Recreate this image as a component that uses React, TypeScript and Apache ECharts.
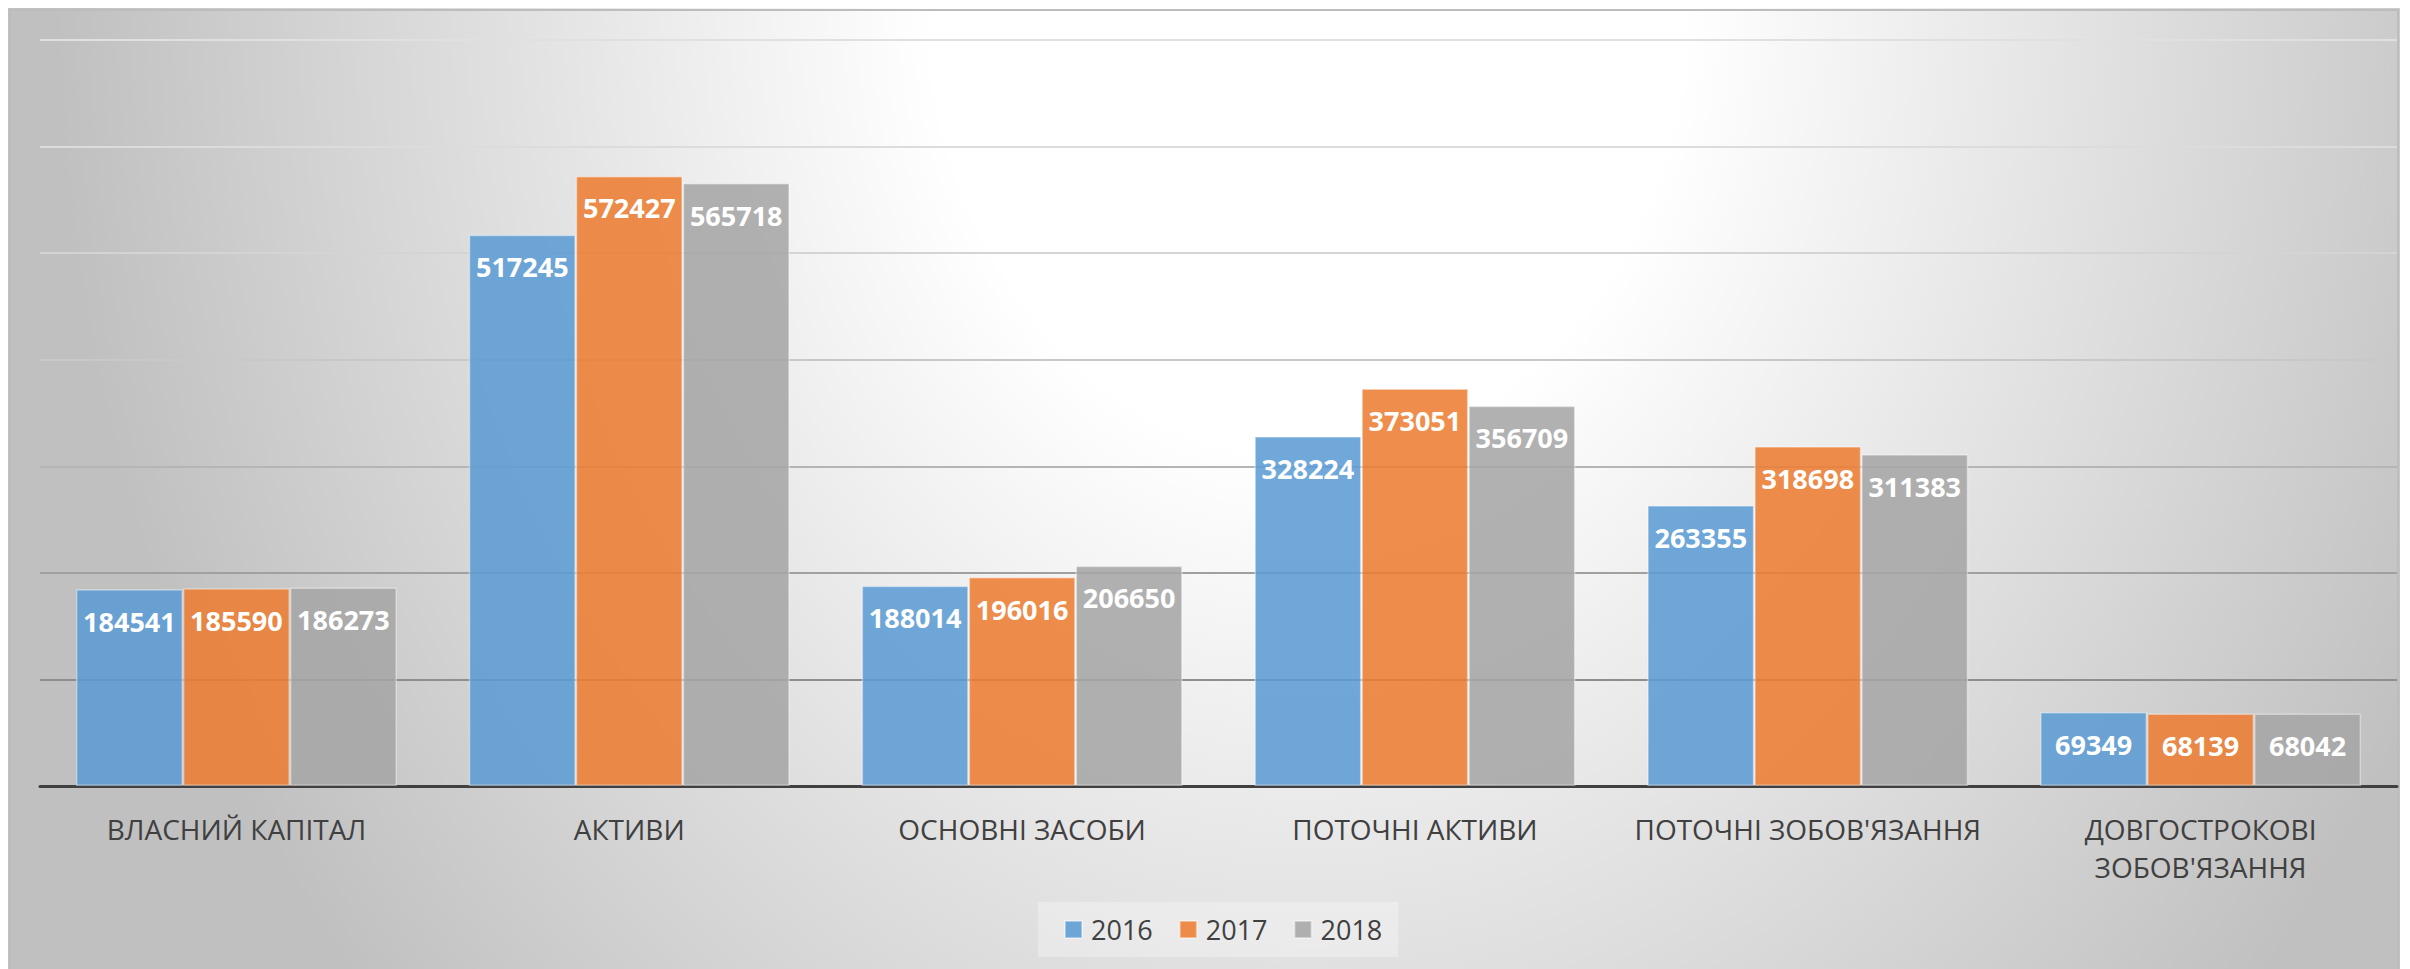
import React, { useEffect, useRef } from 'react';
import * as echarts from 'echarts';

const categories = [
  'ВЛАСНИЙ КАПІТАЛ',
  'АКТИВИ',
  'ОСНОВНІ ЗАСОБИ',
  'ПОТОЧНІ АКТИВИ',
  "ПОТОЧНІ ЗОБОВ'ЯЗАННЯ",
  "ДОВГОСТРОКОВІ ЗОБОВ'ЯЗАННЯ",
];
const years = ['2016', '2017', '2018'];
const values2016 = [184541, 517245, 188014, 328224, 263355, 69349];
const values2017 = [185590, 572427, 196016, 373051, 318698, 68139];
const values2018 = [186273, 565718, 206650, 356709, 311383, 68042];
const yMin = 0;
const yMax = 700000;
const yInterval = 100000;

const seriesColors = ['rgba(91,155,213,0.87)', 'rgba(237,125,49,0.87)', 'rgba(165,165,165,0.87)'];
const gridLineColors = ['#8c8c8c', '#8e8e8e', '#a0a0a0', '#b5b5b5', '#c8c8c8', '#d4d4d4', '#dcdcdc', '#e0e0e0'];
const FONT = '"Open Sans", "Noto Sans", sans-serif';

const W = 2392;
const H = 961;

export default function App() {
  const ref = useRef<HTMLDivElement>(null);

  useEffect(() => {
    document.body.style.overflow = 'hidden';
    const chart = echarts.init(ref.current as HTMLDivElement, null, { renderer: 'svg' });
    const allValues = [values2016, values2017, values2018];
    const option = {
      animation: false,
      graphic: {
        elements: [
          {
            type: 'rect',
            z: -100,
            silent: true,
            shape: { x: 0, y: 0, width: W, height: H },
            style: { fill: '#c0c0c0' },
          },
          {
            type: 'circle',
            z: -99,
            silent: true,
            x: 1300,
            y: -8,
            scaleX: 0.83,
            scaleY: 1,
            shape: { cx: 0, cy: 0, r: 1510 },
            style: {
              fill: new echarts.graphic.RadialGradient(0.5, 0.5, 0.5, [
                { offset: 0, color: '#ffffff' },
                { offset: 0.3, color: '#ffffff' },
                { offset: 1, color: '#c0c0c0' },
              ]),
            },
          },
          {
            type: 'rect',
            z: -98,
            silent: true,
            shape: { x: 2, y: 2, width: W - 4, height: H + 20 },
            style: { fill: 'none', stroke: '#bdbdbd', lineWidth: 2 },
          },
        ],
      },
      grid: { left: 32, right: 3, top: 32, bottom: 183, containLabel: false },
      legend: {
        data: years,
        left: 1030,
        top: 894,
        icon: 'rect',
        itemWidth: 17,
        itemHeight: 17,
        itemGap: 26,
        padding: [14, 16, 14, 26],
        backgroundColor: 'rgba(255,255,255,0.3)',
        textStyle: { fontFamily: FONT, fontSize: 27, color: '#404040', lineHeight: 27, padding: [0, 0, 0, 4] },
      },
      xAxis: {
        type: 'category',
        data: categories,
        axisLine: { show: true, lineStyle: { color: '#404040', width: 3 } },
        axisTick: { show: false },
        axisLabel: {
          interval: 0,
          margin: 24,
          fontFamily: FONT,
          fontSize: 28,
          lineHeight: 38,
          color: '#404040',
          formatter: (v: string) => (v.length > 22 ? v.replace(' ', '\n') : v),
        },
      },
      yAxis: {
        type: 'value',
        min: yMin,
        max: yMax,
        interval: yInterval,
        axisLine: { show: false },
        axisTick: { show: false },
        axisLabel: { show: false },
        splitLine: { show: true, lineStyle: { color: gridLineColors, width: 2 } },
      },
      series: years.map((y, i) => ({
        name: y,
        type: 'bar',
        data: allValues[i],
        barGap: '0%',
        barCategoryGap: '18.3%',
        itemStyle: {
          color: seriesColors[i],
          borderColor: 'rgba(255,255,255,0.4)',
          borderWidth: 1.5,
        },
        label: {
          show: true,
          position: 'insideTop',
          distance: 15,
          color: '#ffffff',
          fontFamily: FONT,
          fontWeight: 'bold',
          fontSize: 27,
          lineHeight: 34,
        },
      })),
    };
    chart.setOption(option as any);
    return () => chart.dispose();
  }, []);

  return <div ref={ref} style={{ width: W, height: H }} />;
}
